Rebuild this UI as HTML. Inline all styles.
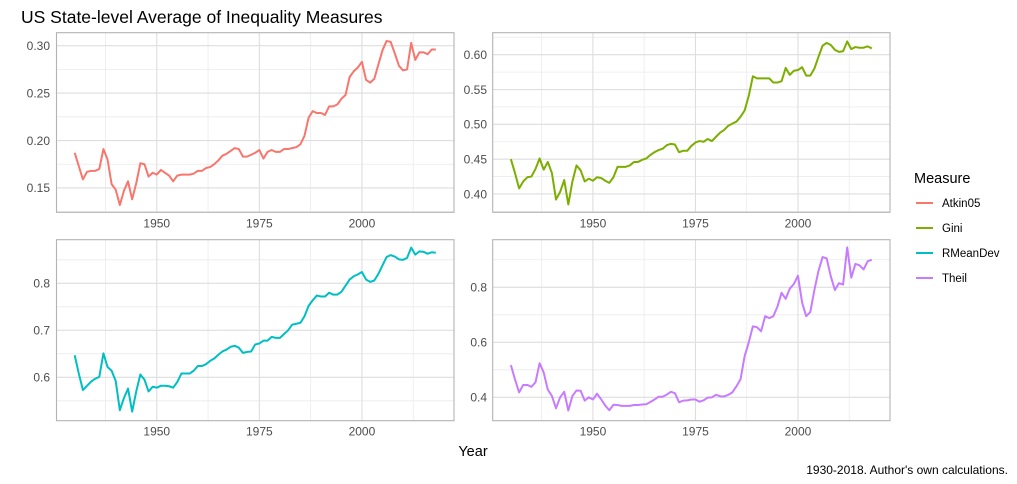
<!DOCTYPE html>
<html><head><meta charset="utf-8"><style>
body{margin:0;background:#fff;}
svg{display:block;font-family:"Liberation Sans",Arial,sans-serif;}
</style></head><body>
<svg id="chart" width="1017" height="484" viewBox="0 0 1017 484">
<text x="21" y="23" font-size="17.5" fill="#000">US State-level Average of Inequality Measures</text>
<text x="473" y="456" font-size="14.5" text-anchor="middle" fill="#000">Year</text>
<text x="1008" y="474" font-size="12" text-anchor="end" fill="#000">1930-2018. Author's own calculations.</text>
<g id="panels"></g>
<g id="legend">
<text x="914" y="183" font-size="14.5" fill="#000">Measure</text>
</g>
</svg>
<script>
const years = [];
for (let y = 1930; y <= 2018; y++) years.push(y);
const measures = ["Atkin05","Gini","RMeanDev","Theil"];
const colors = ["#F8766D","#7CAE00","#00BFC4","#C77CFF"];
const atkin05 = [0.187,0.173,0.159,0.167,0.168,0.168,0.170,0.191,0.180,0.154,0.148,0.132,0.147,0.157,0.138,0.155,0.176,0.175,0.162,0.166,0.164,0.169,0.166,0.163,0.157,0.163,0.164,0.164,0.164,0.165,0.168,0.168,0.171,0.172,0.175,0.179,0.184,0.186,0.189,0.192,0.191,0.183,0.183,0.185,0.187,0.190,0.181,0.188,0.190,0.188,0.188,0.191,0.191,0.192,0.193,0.196,0.205,0.224,0.231,0.229,0.229,0.227,0.236,0.236,0.238,0.244,0.248,0.267,0.273,0.277,0.283,0.264,0.261,0.265,0.280,0.295,0.305,0.304,0.292,0.279,0.274,0.275,0.303,0.285,0.293,0.293,0.291,0.296,0.296];
const gini = [0.450,0.430,0.408,0.418,0.424,0.425,0.436,0.451,0.435,0.446,0.430,0.392,0.403,0.420,0.385,0.418,0.441,0.434,0.418,0.422,0.419,0.424,0.423,0.419,0.416,0.424,0.439,0.439,0.439,0.441,0.446,0.446,0.449,0.451,0.456,0.460,0.463,0.465,0.470,0.472,0.471,0.460,0.462,0.462,0.469,0.474,0.476,0.475,0.479,0.476,0.482,0.488,0.492,0.498,0.501,0.504,0.511,0.520,0.541,0.569,0.566,0.566,0.566,0.566,0.560,0.560,0.562,0.581,0.571,0.577,0.578,0.582,0.570,0.570,0.580,0.597,0.613,0.617,0.614,0.607,0.604,0.605,0.619,0.608,0.611,0.610,0.610,0.612,0.609];
const rmeandev = [0.647,0.608,0.573,0.582,0.591,0.597,0.601,0.651,0.622,0.614,0.592,0.530,0.556,0.576,0.527,0.570,0.606,0.595,0.570,0.580,0.578,0.582,0.582,0.581,0.578,0.590,0.608,0.608,0.608,0.614,0.624,0.624,0.628,0.635,0.640,0.648,0.655,0.659,0.665,0.667,0.663,0.652,0.654,0.655,0.670,0.672,0.678,0.678,0.686,0.684,0.684,0.692,0.700,0.712,0.714,0.716,0.730,0.752,0.764,0.774,0.772,0.772,0.780,0.776,0.776,0.782,0.795,0.808,0.815,0.819,0.824,0.808,0.803,0.806,0.820,0.838,0.856,0.860,0.857,0.851,0.850,0.854,0.876,0.861,0.868,0.867,0.863,0.866,0.865];
const theil = [0.517,0.465,0.418,0.445,0.445,0.438,0.455,0.524,0.490,0.428,0.405,0.360,0.400,0.420,0.352,0.405,0.425,0.424,0.388,0.400,0.392,0.413,0.393,0.370,0.353,0.373,0.372,0.369,0.369,0.369,0.372,0.372,0.374,0.375,0.383,0.392,0.402,0.402,0.410,0.420,0.415,0.382,0.388,0.389,0.392,0.392,0.384,0.389,0.399,0.400,0.409,0.404,0.403,0.409,0.418,0.440,0.466,0.550,0.600,0.658,0.655,0.640,0.695,0.688,0.695,0.730,0.780,0.758,0.795,0.812,0.842,0.745,0.695,0.710,0.790,0.860,0.910,0.905,0.840,0.790,0.815,0.810,0.945,0.835,0.885,0.880,0.865,0.895,0.900];
const seriesValues = [atkin05, gini, rmeandev, theil];
const xTicks = [1950, 1975, 2000];
const xMinor = [1937.5, 1962.5, 1987.5, 2012.5];
const yTicks1 = [0.15, 0.20, 0.25, 0.30];
const yTicks2 = [0.40, 0.45, 0.50, 0.55, 0.60];
const yTicks3 = [0.6, 0.7, 0.8];
const yTicks4 = [0.4, 0.6, 0.8];
const yTickSets = [yTicks1, yTicks2, yTicks3, yTicks4];
const yDomains = [[0.1243,0.3137],[0.3737,0.6316],[0.5077,0.8928],[0.315,0.973]];
const yDigits = [2,2,1,1];

const NS = "http://www.w3.org/2000/svg";
const boxes = [
  {x0:56.5,x1:454,y0:32.7,y1:212.3,lx:50},
  {x0:492.7,x1:890,y0:32.7,y1:212.3,lx:487},
  {x0:56.5,x1:454,y0:239.7,y1:420.7,lx:50},
  {x0:492.7,x1:890,y0:239.7,y1:420.7,lx:487}
];
function mk(tag, attrs, parent){ const e=document.createElementNS(NS,tag); for(const k in attrs) e.setAttribute(k,attrs[k]); parent.appendChild(e); return e; }
const panels = document.getElementById("panels");
boxes.forEach((b, i) => {
  const g = mk("g", {}, panels);
  
  
  const xs = y => b.x0 + 18.2 + (y - 1930) * (b.x1 - b.x0 - 36.4) / 88;
  const [d0, d1] = yDomains[i];
  const ys = v => b.y1 - (v - d0) / (d1 - d0) * (b.y1 - b.y0);
  const ticks = yTickSets[i];
  const step = ticks[1] - ticks[0];
  const minors = [];
  for (let t = ticks[0] - step/2; t < d1; t += step) if (t > d0) minors.push(t);
  minors.forEach(t => { const l = mk("line", {x1:b.x0,x2:b.x1,y1:ys(t),y2:ys(t),stroke:"#ebebeb","stroke-width":0.8}, g);
      });
  xMinor.forEach(t => { const l = mk("line", {x1:xs(t),x2:xs(t),y1:b.y0,y2:b.y1,stroke:"#ebebeb","stroke-width":0.8}, g);
      });
  ticks.forEach(t => {
    const l = mk("line", {x1:b.x0,x2:b.x1,y1:ys(t),y2:ys(t),stroke:"#dedede","stroke-width":1.1}, g);
     
    const tx = mk("text", {x:b.lx,y:ys(t)+4.3,"font-size":12,"text-anchor":"end",fill:"#4d4d4d"}, g);
     
    tx.textContent = t.toFixed(yDigits[i]);
  });
  xTicks.forEach(t => {
    const l = mk("line", {x1:xs(t),x2:xs(t),y1:b.y0,y2:b.y1,stroke:"#dedede","stroke-width":1.1}, g);
     
    const tx = mk("text", {x:xs(t),y:b.y1+15,"font-size":12,"text-anchor":"middle",fill:"#4d4d4d"}, g);
     
    tx.textContent = t;
  });
  const border = mk("rect", {x:b.x0,y:b.y0,width:b.x1-b.x0,height:b.y1-b.y0,fill:"none",stroke:"#b3b3b3","stroke-width":1.1}, g);
   
  const vals = seriesValues[i];
  const d = years.map((y, k) => (k ? "L" : "M") + xs(y).toFixed(2) + "," + ys(vals[k]).toFixed(2)).join("");
  const p = mk("path", {d:d,fill:"none",stroke:colors[i],"stroke-width":2,"stroke-linejoin":"round"}, g);
  
  
});
const legend = document.getElementById("legend");
measures.forEach((m, i) => {
  const y = 203 + i * 25;
  const g = mk("g", {}, legend);
  
  
  mk("line", {x1:916,x2:933,y1:y,y2:y,stroke:colors[i],"stroke-width":2}, g);
  const t = mk("text", {x:942,y:y+4,"font-size":11.5,fill:"#000"}, g);
  t.textContent = m;
});
</script>
</body></html>
